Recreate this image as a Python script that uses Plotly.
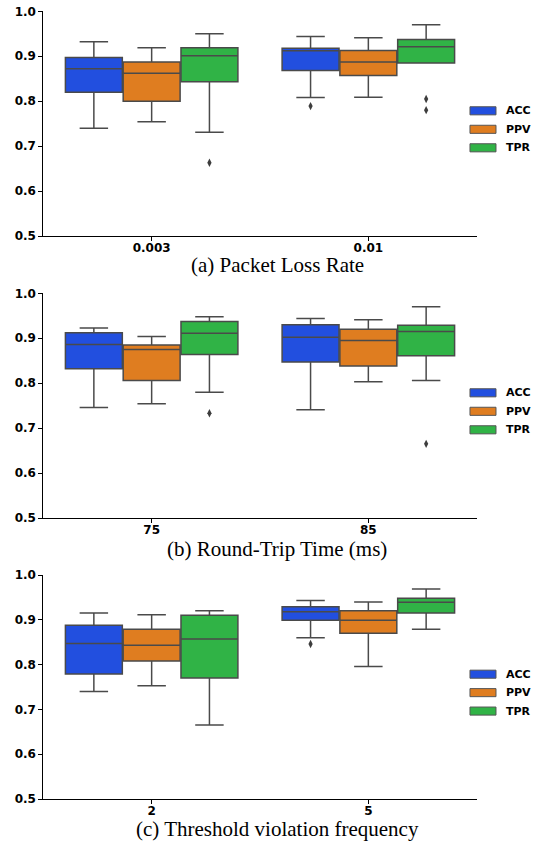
import plotly.graph_objects as go

metrics = ["ACC", "PPV", "TPR"]
colors = ["#224fdf", "#df7d20", "#30b346"]

# Panel (a) Packet Loss Rate
cats_a = ["0.003", "0.01"]
a_q1 = {"ACC": [0.820, 0.868], "PPV": [0.800, 0.857], "TPR": [0.843, 0.885]}
a_med = {"ACC": [0.872, 0.912], "PPV": [0.862, 0.887], "TPR": [0.901, 0.921]}
a_q3 = {"ACC": [0.897, 0.918], "PPV": [0.887, 0.913], "TPR": [0.919, 0.937]}
a_lo = {"ACC": [0.740, 0.808], "PPV": [0.754, 0.809], "TPR": [0.731, 0.885]}
a_hi = {"ACC": [0.932, 0.944], "PPV": [0.919, 0.941], "TPR": [0.950, 0.970]}
a_out = {"ACC": [(1, 0.789)], "PPV": [], "TPR": [(0, 0.663), (1, 0.805), (1, 0.780)]}

# Panel (b) Round-Trip Time (ms)
cats_b = ["75", "85"]
b_q1 = {"ACC": [0.832, 0.847], "PPV": [0.806, 0.838], "TPR": [0.864, 0.861]}
b_med = {"ACC": [0.886, 0.902], "PPV": [0.875, 0.895], "TPR": [0.911, 0.915]}
b_q3 = {"ACC": [0.912, 0.930], "PPV": [0.885, 0.920], "TPR": [0.937, 0.929]}
b_lo = {"ACC": [0.746, 0.741], "PPV": [0.754, 0.803], "TPR": [0.780, 0.806]}
b_hi = {"ACC": [0.923, 0.944], "PPV": [0.904, 0.941], "TPR": [0.948, 0.970]}
b_out = {"ACC": [], "PPV": [], "TPR": [(0, 0.733), (1, 0.665)]}

# Panel (c) Threshold violation frequency
cats_c = ["2", "5"]
c_q1 = {"ACC": [0.779, 0.899], "PPV": [0.808, 0.870], "TPR": [0.770, 0.915]}
c_med = {"ACC": [0.847, 0.918], "PPV": [0.843, 0.899], "TPR": [0.857, 0.939]}
c_q3 = {"ACC": [0.888, 0.929], "PPV": [0.879, 0.920], "TPR": [0.910, 0.948]}
c_lo = {"ACC": [0.740, 0.860], "PPV": [0.753, 0.796], "TPR": [0.665, 0.879]}
c_hi = {"ACC": [0.915, 0.943], "PPV": [0.911, 0.940], "TPR": [0.920, 0.969]}
c_out = {"ACC": [(1, 0.846)], "PPV": [], "TPR": []}

captions = ["(a) Packet Loss Rate", "(b) Round-Trip Time (ms)", "(c) Threshold violation frequency"]

panels = [
    (cats_a, a_q1, a_med, a_q3, a_lo, a_hi, a_out),
    (cats_b, b_q1, b_med, b_q3, b_lo, b_hi, b_out),
    (cats_c, c_q1, c_med, c_q3, c_lo, c_hi, c_out),
]

W, H = 541, 842
x_dom = [43.3 / W, 476.7 / W]
y_pix = [(11.3, 236.0), (293.3, 518.0), (575.0, 799.0)]
cap_y = [265, 548.5, 829]

group_w = 0.8
bw = group_w / 3
offsets = [-bw, 0.0, bw]
edge = "#4a4a4a"
tickfont = dict(family="DejaVu Sans", size=12, color="black", weight="bold")
legfont = dict(family="DejaVu Sans", size=11, color="black", weight="bold")

fig = go.Figure()
layout = dict(width=W, height=H, margin=dict(l=0, r=0, t=0, b=0),
              paper_bgcolor="white", plot_bgcolor="white", showlegend=False)
shapes, annotations = [], []

for p, (cats, q1, med, q3, lo, hi, out) in enumerate(panels):
    xa = "x" if p == 0 else f"x{p+1}"
    ya = "y" if p == 0 else f"y{p+1}"
    for m, (name, col) in enumerate(zip(metrics, colors)):
        xs = [i + offsets[m] for i in range(len(cats))]
        fig.add_trace(go.Box(
            x=xs, q1=q1[name], median=med[name], q3=q3[name],
            lowerfence=lo[name], upperfence=hi[name],
            width=bw * 0.985, whiskerwidth=0.5, boxpoints=False,
            fillcolor=col, line=dict(color=edge, width=1.5),
            name=name, xaxis=xa, yaxis=ya, hoverinfo="skip"))
        if out[name]:
            fig.add_trace(go.Scatter(
                x=[c + offsets[m] for c, _ in out[name]],
                y=[v for _, v in out[name]],
                mode="markers", xaxis=xa, yaxis=ya,
                marker=dict(symbol="diamond-tall", size=6, color="#3d3d3d",
                            line=dict(width=0)),
                hoverinfo="skip"))
        # legend patch + label
        yc = 1 - (99.5 + 18.5 * m) / 224.7
        shapes.append(dict(type="rect", xref=f"{xa} domain", yref=f"{ya} domain",
                           x0=0.9845, x1=1.0445, y0=yc - 0.018, y1=yc + 0.018,
                           fillcolor=col, line=dict(color="#555555", width=1)))
        annotations.append(dict(text=name, xref=f"{xa} domain", yref=f"{ya} domain",
                                x=1.064, y=yc, xanchor="left", yanchor="middle",
                                showarrow=False, font=legfont))
    top, bot = y_pix[p]
    ak = "xaxis" if p == 0 else f"xaxis{p+1}"
    yk = "yaxis" if p == 0 else f"yaxis{p+1}"
    layout[ak] = dict(domain=x_dom, anchor=ya, range=[-0.5, 1.5],
                      tickvals=list(range(len(cats))), ticktext=cats,
                      showline=True, linecolor="black", linewidth=1,
                      ticks="outside", ticklen=4, tickcolor="black",
                      showgrid=False, zeroline=False, tickfont=tickfont,
                      ticklabelstandoff=-3, automargin=False)
    layout[yk] = dict(domain=[1 - bot / H, 1 - top / H], anchor=xa,
                      range=[0.5, 1.0], tickvals=[0.5, 0.6, 0.7, 0.8, 0.9, 1.0],
                      tickformat=".1f", showline=True, linecolor="black",
                      linewidth=1, ticks="outside", ticklen=4, tickcolor="black",
                      showgrid=False, zeroline=False, tickfont=tickfont,
                      automargin=False)
    annotations.append(dict(text=captions[p], xref="paper", yref="paper",
                            x=277 / W, y=1 - cap_y[p] / H, xanchor="center",
                            yanchor="middle", showarrow=False,
                            font=dict(family="Liberation Serif", size=21, color="black")))

layout["shapes"] = shapes
layout["annotations"] = annotations
fig.update_layout(**layout)
fig.write_html("out.html", config={"displayModeBar": False},
               post_script="document.body.style.margin='0';document.body.style.overflow='hidden';")
